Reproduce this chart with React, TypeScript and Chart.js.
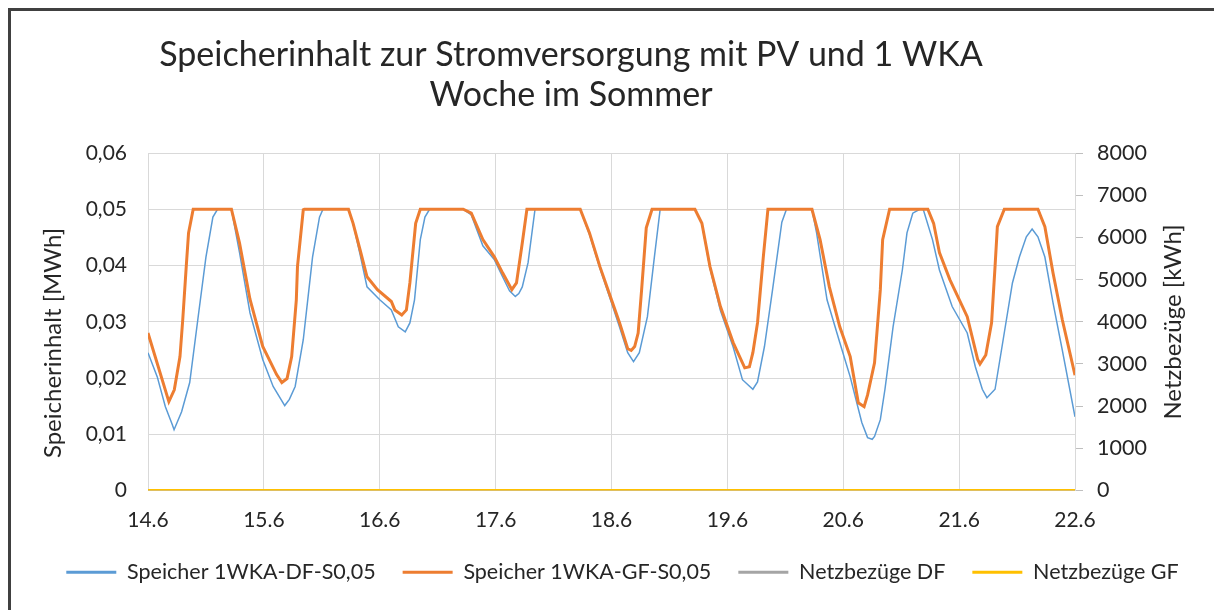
import React, { useEffect, useRef } from "react";
import { Chart, registerables } from "chart.js";

Chart.register(...registerables);

// ---------- data ----------
const titleLines = ["Speicherinhalt zur Stromversorgung mit PV und 1 WKA", "Woche im Sommer"];
const leftAxisTitle = "Speicherinhalt [MWh]";
const rightAxisTitle = "Netzbezüge [kWh]";
const dayLabels = ["14.6", "15.6", "16.6", "17.6", "18.6", "19.6", "20.6", "21.6", "22.6"];
const leftTickLabels = ["0", "0,01", "0,02", "0,03", "0,04", "0,05", "0,06"];
const rightTickLabels = ["0", "1000", "2000", "3000", "4000", "5000", "6000", "7000", "8000"];
const seriesNames = ["Speicher 1WKA-DF-S0,05", "Speicher 1WKA-GF-S0,05", "Netzbezüge DF", "Netzbezüge GF"];

// time in days since 14.6
const dfTime = [
  0, 0.08, 0.15, 0.21, 0.225, 0.29, 0.36, 0.43, 0.5, 0.56, 0.6, 0.72, 0.79, 0.88, 0.99, 1.08, 1.18, 1.22, 1.27, 1.34, 1.42, 1.48, 1.51,
  1.73, 1.77, 1.83, 1.89, 2.0, 2.1, 2.16, 2.22, 2.26, 2.3, 2.35, 2.39, 2.43,
  2.72, 2.79, 2.89, 2.99, 3.06, 3.12, 3.17, 3.2, 3.23, 3.28, 3.34,
  3.73, 3.81, 3.9, 3.99, 4.07, 4.14, 4.19, 4.24, 4.31, 4.37, 4.42,
  4.72, 4.78, 4.85, 4.94, 5.05, 5.13, 5.22, 5.26, 5.32, 5.39, 5.47, 5.51,
  5.73, 5.77, 5.86, 5.97, 6.06, 6.16, 6.21, 6.25, 6.27, 6.32, 6.36, 6.43, 6.51, 6.55, 6.6, 6.66,
  6.69, 6.77, 6.83, 6.94, 7.07, 7.14, 7.2, 7.24, 7.31, 7.38, 7.46, 7.52, 7.58, 7.63, 7.68, 7.74, 7.81, 7.89, 8.0,
];
const dfValue = [
  0.0245, 0.0202, 0.0149, 0.0117, 0.0108, 0.014, 0.0192, 0.0304, 0.0415, 0.0486, 0.05, 0.05, 0.0423, 0.0316, 0.0233, 0.0185, 0.0151, 0.0162, 0.0185, 0.0268, 0.0415, 0.0486, 0.05,
  0.05, 0.0475, 0.042, 0.0362, 0.0339, 0.0321, 0.0291, 0.0282, 0.0298, 0.0339, 0.0446, 0.0486, 0.05,
  0.05, 0.049, 0.0435, 0.041, 0.038, 0.0355, 0.0345, 0.035, 0.0362, 0.0405, 0.05,
  0.05, 0.0455, 0.0395, 0.034, 0.029, 0.0245, 0.0229, 0.0245, 0.0309, 0.0415, 0.05,
  0.05, 0.0475, 0.0395, 0.032, 0.0255, 0.0197, 0.018, 0.0193, 0.0256, 0.0357, 0.0477, 0.05,
  0.05, 0.0458, 0.0339, 0.0263, 0.0202, 0.0121, 0.0094, 0.0091, 0.0096, 0.0126, 0.018, 0.0291, 0.0392, 0.0458, 0.0493, 0.05,
  0.05, 0.0446, 0.0392, 0.0327, 0.028, 0.022, 0.018, 0.0165, 0.018, 0.0268, 0.0369, 0.0415, 0.0451, 0.0465, 0.0451, 0.0415, 0.0334, 0.025, 0.0131,
];

const gfTime = [
  0, 0.18, 0.227, 0.276, 0.3, 0.33, 0.35, 0.39, 0.72, 0.79, 0.88, 0.99, 1.11, 1.155, 1.2, 1.24, 1.28, 1.29, 1.34, 1.35,
  1.73, 1.77, 1.83, 1.89, 1.98, 2.1, 2.13, 2.19, 2.23, 2.26, 2.31, 2.35,
  2.72, 2.79, 2.89, 2.99, 3.06, 3.14, 3.18, 3.23, 3.27,
  3.73, 3.81, 3.9, 3.99, 4.07, 4.14, 4.17, 4.2, 4.23, 4.26, 4.3, 4.35,
  4.72, 4.78, 4.85, 4.94, 5.05, 5.15, 5.19, 5.22, 5.26, 5.31, 5.35,
  5.73, 5.8, 5.88, 5.97, 6.06, 6.13, 6.18, 6.21, 6.27, 6.32, 6.34, 6.4,
  6.73, 6.78, 6.83, 6.92, 7.07, 7.16, 7.18, 7.23, 7.28, 7.31, 7.33, 7.39,
  7.68, 7.74, 7.81, 7.89, 8.0,
];
const gfValue = [
  0.028, 0.0158, 0.0179, 0.0238, 0.0304, 0.0398, 0.0458, 0.05, 0.05, 0.044, 0.034, 0.0256, 0.0206, 0.0192, 0.0199, 0.0238, 0.0339, 0.0398, 0.0499, 0.05,
  0.05, 0.0475, 0.0428, 0.038, 0.0357, 0.0336, 0.0321, 0.0312, 0.0321, 0.0369, 0.0475, 0.05,
  0.05, 0.0493, 0.0446, 0.0415, 0.0387, 0.0357, 0.0369, 0.044, 0.05,
  0.05, 0.0458, 0.0398, 0.0345, 0.0298, 0.0252, 0.0249, 0.0256, 0.028, 0.0357, 0.0467, 0.05,
  0.05, 0.0475, 0.0398, 0.0327, 0.0263, 0.0218, 0.022, 0.0245, 0.0298, 0.0415, 0.05,
  0.05, 0.0446, 0.0362, 0.0291, 0.0238, 0.0156, 0.0149, 0.017, 0.0227, 0.0357, 0.0446, 0.05,
  0.05, 0.0475, 0.0423, 0.0375, 0.0309, 0.0233, 0.0225, 0.0241, 0.0298, 0.0398, 0.0469, 0.05,
  0.05, 0.0469, 0.0387, 0.0304, 0.0205,
];

const netzTime = [0, 1, 2, 3, 4, 5, 6, 7, 8];
const netzDF = [0, 0, 0, 0, 0, 0, 0, 0, 0];
const netzGF = [0, 0, 0, 0, 0, 0, 0, 0, 0];

const colors = ["#5B9BD5", "#ED7D31", "#A5A5A5", "#FFC000"];

const toPoints = (xs: number[], ys: number[]) => xs.map((x, i) => ({ x, y: ys[i] }));

const FONT = "Lato, 'Open Sans', sans-serif";
const TEXT = "#262626";
const GRID = "#D9D9D9";

const titlesPlugin = {
  id: "customTitles",
  afterDraw(chart: any) {
    const ctx = chart.ctx;
    ctx.save();
    ctx.fillStyle = TEXT;
    ctx.textAlign = "center";
    ctx.textBaseline = "alphabetic";
    ctx.font = `34px ${FONT}`;
    ctx.fillText(titleLines[0], 560, 55);
    ctx.fillText(titleLines[1], 560, 95);

    ctx.font = `24px ${FONT}`;
    ctx.textBaseline = "middle";
    ctx.save();
    ctx.translate(42, 332);
    ctx.rotate(-Math.PI / 2);
    ctx.fillText(leftAxisTitle, 0, 0);
    ctx.restore();
    ctx.save();
    ctx.translate(1162, 311);
    ctx.rotate(-Math.PI / 2);
    ctx.fillText(rightAxisTitle, 0, 0);
    ctx.restore();
    ctx.restore();
  },
};

export default function App() {
  const ref = useRef<HTMLCanvasElement | null>(null);

  useEffect(() => {
    document.body.style.overflow = "hidden";
    const canvas = ref.current;
    if (!canvas) return;
    const chart = new Chart(canvas, {
      type: "line",
      data: {
        datasets: [
          {
            label: seriesNames[0],
            data: toPoints(dfTime, dfValue),
            borderColor: colors[0],
            backgroundColor: colors[0],
            borderWidth: 1.5,
            pointRadius: 0,
            tension: 0,
            yAxisID: "y",
            order: 3,
          },
          {
            label: seriesNames[1],
            data: toPoints(gfTime, gfValue),
            borderColor: colors[1],
            backgroundColor: colors[1],
            borderWidth: 3,
            pointRadius: 0,
            tension: 0,
            yAxisID: "y",
            order: 2,
          },
          {
            label: seriesNames[2],
            data: toPoints(netzTime, netzDF),
            borderColor: colors[2],
            backgroundColor: colors[2],
            borderWidth: 3,
            pointRadius: 0,
            tension: 0,
            yAxisID: "y1",
            order: 1,
          },
          {
            label: seriesNames[3],
            data: toPoints(netzTime, netzGF),
            borderColor: colors[3],
            backgroundColor: colors[3],
            borderWidth: 3,
            pointRadius: 0,
            tension: 0,
            yAxisID: "y1",
            order: 0,
          },
        ],
      },
      options: {
        animation: false,
        responsive: false,
        events: [],
        layout: { padding: { left: 20, right: 0, top: 142, bottom: 17 } },
        scales: {
          x: {
            type: "linear",
            min: 0,
            max: 8,
            ticks: {
              stepSize: 1,
              autoSkip: false,
              maxRotation: 0,
              padding: 17,
              color: TEXT,
              font: { family: FONT, size: 21 },
              callback: (v: any) => dayLabels[Math.round(Number(v))] ?? "",
            },
            grid: { color: GRID, drawTicks: false },
            border: { color: GRID },
            afterFit: (s: any) => {
              s.height = 44;
            },
          },
          y: {
            position: "left",
            min: 0,
            max: 0.06,
            ticks: {
              stepSize: 0.01,
              padding: 21,
              color: TEXT,
              font: { family: FONT, size: 21 },
              callback: (_v: any, i: number) => leftTickLabels[i] ?? "",
            },
            grid: { color: GRID, drawTicks: false },
            border: { color: GRID },
            afterFit: (s: any) => {
              s.width = 117;
            },
          },
          y1: {
            position: "right",
            min: 0,
            max: 8000,
            ticks: {
              stepSize: 1000,
              padding: 14,
              color: TEXT,
              font: { family: FONT, size: 21.5 },
              callback: (_v: any, i: number) => rightTickLabels[i] ?? "",
            },
            grid: { drawOnChartArea: false, drawTicks: true, tickLength: 8, color: "#BFBFBF" },
            border: { color: GRID },
            afterFit: (s: any) => {
              s.width = 139;
            },
          },
        },
        plugins: {
          title: { display: false },
          tooltip: { enabled: false },
          legend: {
            position: "bottom",
            labels: {
              font: { family: FONT, size: 21.5 },
              color: TEXT,
              boxWidth: 50,
              boxHeight: 3,
              padding: 27,
              generateLabels: (c: any) =>
                c.data.datasets.map((ds: any, i: number) => ({
                  text: ds.label,
                  fillStyle: ds.borderColor,
                  strokeStyle: ds.borderColor,
                  lineWidth: 0,
                  hidden: false,
                  datasetIndex: i,
                  fontColor: TEXT,
                })),
            },
          },
        },
      },
      plugins: [titlesPlugin],
    } as any);
    return () => chart.destroy();
  }, []);

  return (
    <div
      style={{
        position: "absolute",
        left: 8,
        top: 8,
        width: 1203,
        height: 599,
        borderLeft: "3px solid #404040",
        borderTop: "3px solid #404040",
        background: "#fff",
      }}
    >
      <canvas ref={ref} width={1203} height={599} style={{ display: "block", width: 1203, height: 599 }} />
    </div>
  );
}
